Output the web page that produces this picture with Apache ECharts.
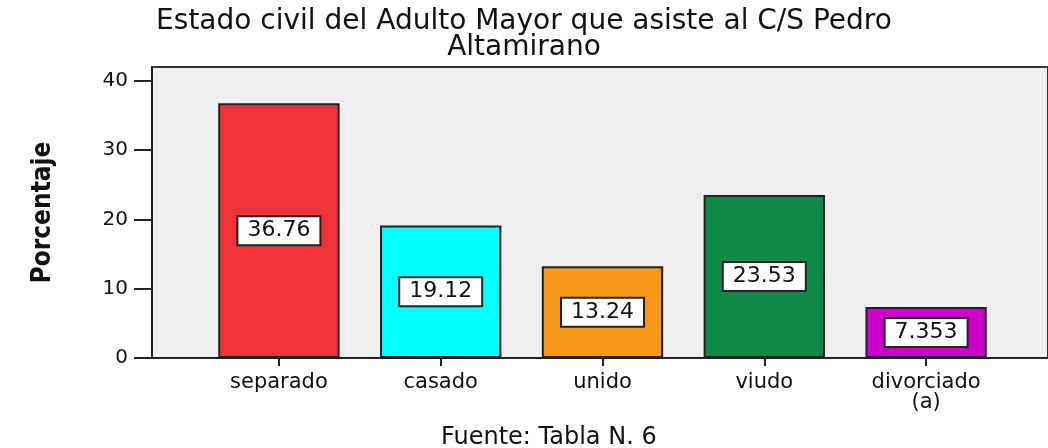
<!DOCTYPE html>
<html>
<head>
<meta charset="utf-8">
<script src="https://cdn.jsdelivr.net/npm/echarts@6/dist/echarts.min.js"></script>
<style>
  html, body { margin: 0; padding: 0; background: #fff; }
  #chart { width: 1048px; height: 448px; }
</style>
</head>
<body>
<div id="chart"></div>
<script>
// datos
const categories = ["separado", "casado", "unido", "viudo", "divorciado\n(a)"];
const percentages = [36.76, 19.12, 13.24, 23.53, 7.353];
const yTicks = [0, 10, 20, 30, 40];

// colores de las barras
const barColors = ["#ef3339", "#00ffff", "#f7981d", "#118a49", "#cc00cc"];

const font = "DejaVu Sans";

const myChart = echarts.init(document.getElementById("chart"));

const option = {
  animation: false,
  title: [
    {
      text: "Estado civil del Adulto Mayor que asiste al C/S Pedro\nAltamirano",
      left: "center",
      top: 4,
      textStyle: {
        fontFamily: font,
        fontSize: 28,
        fontWeight: "normal",
        color: "#111",
        lineHeight: 26,
      },
    },
    {
      text: "Fuente: Tabla N. 6",
      left: 436,
      top: 421,
      textStyle: {
        fontFamily: font,
        fontSize: 24,
        fontWeight: "normal",
        color: "#111",
      },
    },
  ],
  grid: [
    // fondo gris del area de trazado
    {
      left: 152,
      right: -2,
      top: 67,
      bottom: 90,
      show: true,
      backgroundColor: "#efefef",
      borderColor: "#333",
      borderWidth: 2,
    },
    // area de las barras
    {
      left: 198,
      right: 41,
      top: 67,
      bottom: 90,
    },
  ],
  xAxis: [
    {
      gridIndex: 0,
      type: "value",
      min: 0,
      max: 1,
      axisLine: { show: true, lineStyle: { color: "#222", width: 2 } },
      axisTick: { show: false },
      axisLabel: { show: false },
      splitLine: { show: false },
    },
    {
      gridIndex: 1,
      type: "category",
      data: categories,
      axisLine: { show: false },
      axisTick: {
        show: true,
        alignWithLabel: true,
        length: 8,
        lineStyle: { color: "#222", width: 2 },
      },
      axisLabel: {
        margin: 15,
        fontFamily: font,
        fontSize: 21,
        color: "#111",
        lineHeight: 20,
      },
    },
  ],
  yAxis: [
    {
      gridIndex: 0,
      type: "value",
      min: 0,
      max: 42,
      interval: 10,
      axisLine: { show: true, lineStyle: { color: "#222", width: 2 } },
      axisTick: {
        show: true,
        length: 18,
        customValues: yTicks,
        lineStyle: { color: "#222", width: 2 },
      },
      axisLabel: {
        margin: 24,
        fontFamily: font,
        fontSize: 20,
        color: "#111",
        customValues: yTicks,
      },
      splitLine: { show: false },
      name: "Porcentaje",
      nameLocation: "middle",
      nameRotate: 90,
      nameGap: 96,
      nameTextStyle: {
        fontFamily: "DejaVu Sans Condensed",
        fontWeight: "bold",
        fontSize: 26,
        color: "#111",
      },
    },
    {
      gridIndex: 1,
      type: "value",
      min: 0,
      max: 42,
      show: false,
    },
  ],
  series: [
    {
      type: "bar",
      xAxisIndex: 1,
      yAxisIndex: 1,
      barWidth: "75%",
      data: percentages.map((v, i) => ({
        value: v,
        itemStyle: { color: barColors[i] },
      })),
      itemStyle: {
        borderColor: "#222",
        borderWidth: 2,
      },
      label: {
        show: true,
        position: "inside",
        formatter: (p) => String(p.value),
        fontFamily: font,
        fontSize: 22,
        color: "#111",
        backgroundColor: "#fff",
        borderColor: "#222",
        borderWidth: 2,
        padding: [3, 9, 2, 9],
      },
    },
  ],
};

myChart.setOption(option);
</script>
</body>
</html>
